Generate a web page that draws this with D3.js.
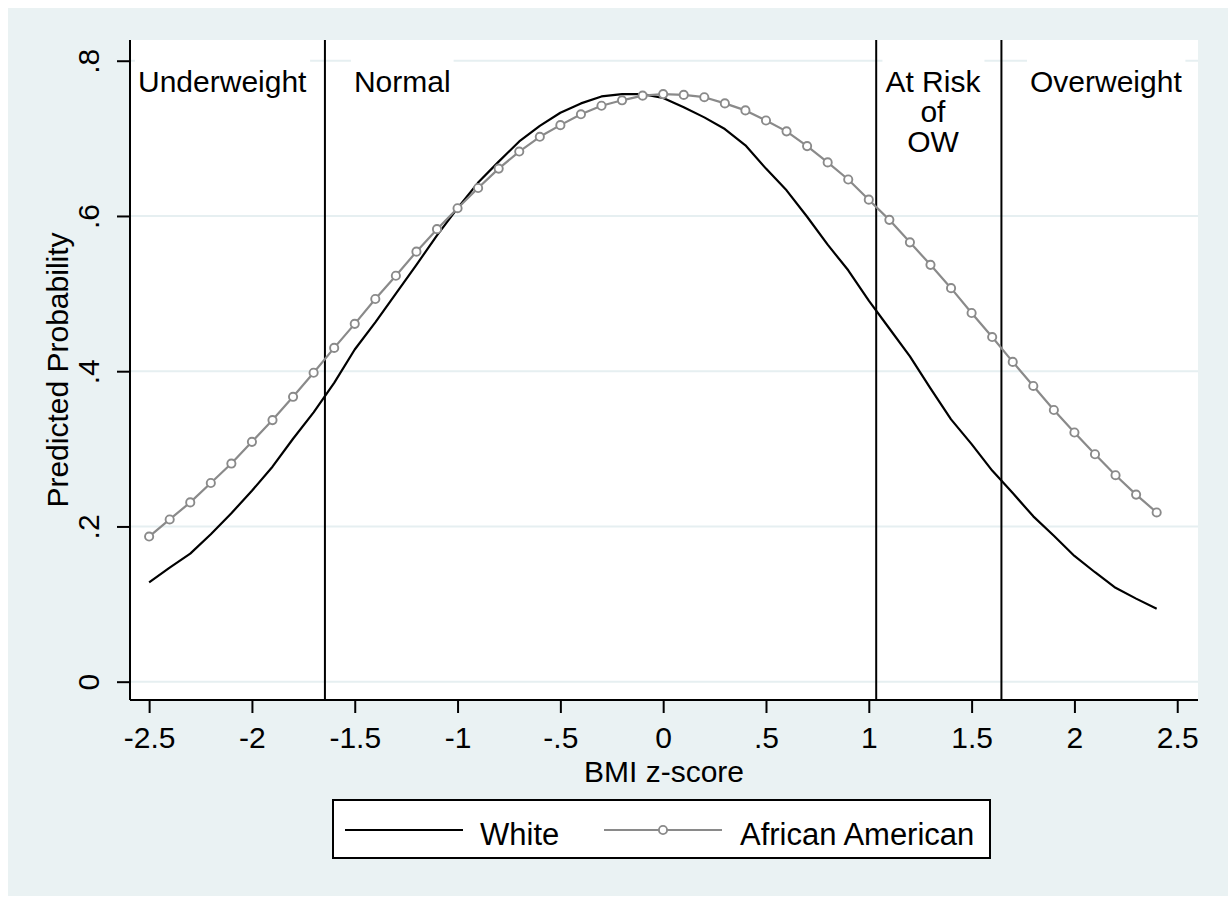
<!DOCTYPE html>
<html>
<head>
<meta charset="utf-8">
<script src="https://cdn.jsdelivr.net/npm/d3@7/dist/d3.min.js"></script>
<style>
  html, body { margin: 0; padding: 0; background: #ffffff; }
  svg text { font-family: "Liberation Sans", Arial, Helvetica, sans-serif; fill: #000; }
</style>
</head>
<body>
<svg id="chart" width="1230" height="898"></svg>
<script>
// ---- data ----
const xValues = [-2.5,-2.4,-2.3,-2.2,-2.1,-2.0,-1.9,-1.8,-1.7,-1.6,-1.5,-1.4,-1.3,-1.2,-1.1,-1.0,-0.9,-0.8,-0.7,-0.6,-0.5,-0.4,-0.3,-0.2,-0.1,0.0,0.1,0.2,0.3,0.4,0.5,0.6,0.7,0.8,0.9,1.0,1.1,1.2,1.3,1.4,1.5,1.6,1.7,1.8,1.9,2.0,2.1,2.2,2.3,2.4];
const whiteValues = [0.128,0.147,0.165,0.190,0.217,0.246,0.277,0.313,0.347,0.385,0.428,0.463,0.500,0.537,0.575,0.610,0.643,0.670,0.696,0.716,0.733,0.745,0.754,0.757,0.757,0.752,0.740,0.727,0.712,0.691,0.661,0.633,0.599,0.563,0.530,0.491,0.455,0.419,0.378,0.338,0.306,0.272,0.243,0.213,0.188,0.162,0.141,0.121,0.107,0.094];
const africanAmericanValues = [0.187,0.209,0.231,0.256,0.281,0.309,0.337,0.367,0.398,0.430,0.461,0.493,0.523,0.554,0.583,0.610,0.636,0.661,0.683,0.702,0.717,0.731,0.742,0.749,0.755,0.757,0.756,0.753,0.745,0.736,0.723,0.709,0.690,0.669,0.647,0.621,0.595,0.566,0.537,0.507,0.475,0.444,0.412,0.381,0.350,0.321,0.293,0.266,0.241,0.218];
const cutoffs = [-1.645, 1.036, 1.645];
const xTicks = [-2.5,-2,-1.5,-1,-0.5,0,0.5,1,1.5,2,2.5];
const xTickLabels = ["-2.5","-2","-1.5","-1","-.5","0",".5","1","1.5","2","2.5"];
const yTicks = [0,0.2,0.4,0.6,0.8];
const yTickLabels = ["0",".2",".4",".6",".8"];
const zoneLabels = [
  {lines:["Underweight"], at:-2.554, anchor:"start"},
  {lines:["Normal"], at:-1.504, anchor:"start"},
  {lines:["At Risk","of","OW"], at:1.312, anchor:"middle"},
  {lines:["Overweight"], at:1.784, anchor:"start"}
];
const seriesNames = ["White","African American"];

// ---- layout ----
const svg = d3.select("#chart");
const plot = {left:130, right:1198, top:40, bottom:700};
const x = d3.scaleLinear().domain([-2.593, 2.601]).range([plot.left, plot.right]);
const y = d3.scaleLinear().domain([-0.0236, 0.8267]).range([plot.bottom, plot.top]);
const grayCol = "#8a8a8a";
const fs = 30;

// outer background
svg.append("rect").attr("x",8).attr("y",8).attr("width",1220).attr("height",888).attr("fill","#eaf2f3");
// plot region
svg.append("rect").attr("x",plot.left).attr("y",plot.top)
  .attr("width",plot.right-plot.left).attr("height",plot.bottom-plot.top).attr("fill","#ffffff");

// gridlines
svg.append("g").selectAll("line").data(yTicks).join("line")
  .attr("x1",plot.left).attr("x2",plot.right)
  .attr("y1",d=>y(d)).attr("y2",d=>y(d))
  .attr("stroke","#e6eff1").attr("stroke-width",2);

// zone labels with white boxes
const lblG = svg.append("g");
zoneLabels.forEach(z => {
  const g = lblG.append("g");
  const t = g.append("text").attr("font-size",fs).attr("text-anchor",z.anchor);
  z.lines.forEach((ln,i) => {
    t.append("tspan").attr("x",x(z.at)).attr("y",92 + i*30).text(ln);
  });
  const bb = t.node().getBBox();
  g.insert("rect","text").attr("x",bb.x-3).attr("y",bb.y-6).attr("width",bb.width+6).attr("height",bb.height+8).attr("fill","#ffffff");
});

// vertical cutoff lines
svg.append("g").selectAll("line").data(cutoffs).join("line")
  .attr("x1",d=>x(d)).attr("x2",d=>x(d))
  .attr("y1",plot.top).attr("y2",plot.bottom)
  .attr("stroke","#000").attr("stroke-width",2);

// series
const whiteData = xValues.map((v,i)=>({x:v,y:whiteValues[i]}));
const aaData = xValues.map((v,i)=>({x:v,y:africanAmericanValues[i]}));
const line = d3.line().x(d=>x(d.x)).y(d=>y(d.y));
svg.append("path").datum(whiteData).attr("d",line).attr("fill","none").attr("stroke","#000").attr("stroke-width",2.2).attr("stroke-linejoin","round");
svg.append("path").datum(aaData).attr("d",line).attr("fill","none").attr("stroke",grayCol).attr("stroke-width",2.2).attr("stroke-linejoin","round");
svg.append("g").selectAll("circle").data(aaData).join("circle")
  .attr("cx",d=>x(d.x)).attr("cy",d=>y(d.y)).attr("r",4.1)
  .attr("fill","#ffffff").attr("stroke",grayCol).attr("stroke-width",1.9);

// axes
const yAxis = d3.axisLeft(y).tickValues(yTicks).tickFormat((d,i)=>yTickLabels[i]).tickSize(13).tickSizeOuter(0);
const yg = svg.append("g").attr("transform",`translate(${plot.left},0)`).call(yAxis);
yg.select(".domain").attr("stroke","#000").attr("stroke-width",2).attr("d",`M0,${plot.bottom}V${plot.top}`);
yg.selectAll(".tick line").attr("stroke","#000").attr("stroke-width",2);
yg.selectAll(".tick text").attr("x",null).attr("dy",null).attr("font-size",fs)
  .attr("text-anchor","middle")
  .attr("transform","translate(-31,0) rotate(-90)");

const xAxis = d3.axisBottom(x).tickValues(xTicks).tickFormat((d,i)=>xTickLabels[i]).tickSize(13).tickSizeOuter(0);
const xg = svg.append("g").attr("transform",`translate(0,${plot.bottom})`).call(xAxis);
xg.select(".domain").attr("stroke","#000").attr("stroke-width",2).attr("d",`M${plot.left},0H${plot.right}`);
xg.selectAll(".tick line").attr("stroke","#000").attr("stroke-width",2);
xg.selectAll(".tick text").attr("y",48).attr("dy",null).attr("font-size",fs);
svg.selectAll(".tick text").attr("fill","#000");
yg.attr("font-family",null); xg.attr("font-family",null);

// axis titles
svg.append("text").attr("x",(plot.left+plot.right)/2).attr("y",782).attr("text-anchor","middle")
  .attr("font-size",fs).text("BMI z-score");
svg.append("text").attr("transform",`translate(68,${(plot.top+plot.bottom)/2}) rotate(-90)`)
  .attr("text-anchor","middle").attr("font-size",fs).text("Predicted Probability");

// legend
const lg = svg.append("g");
lg.append("rect").attr("x",333).attr("y",800).attr("width",657).attr("height",58)
  .attr("fill","#fff").attr("stroke","#000").attr("stroke-width",2);
lg.append("line").attr("x1",345).attr("x2",463).attr("y1",830).attr("y2",830).attr("stroke","#000").attr("stroke-width",2.2);
lg.append("text").attr("x",480).attr("y",845).attr("font-size",31).text(seriesNames[0]);
lg.append("line").attr("x1",604).attr("x2",722).attr("y1",830).attr("y2",830).attr("stroke",grayCol).attr("stroke-width",2.2);
lg.append("circle").attr("cx",663).attr("cy",830).attr("r",4.1).attr("fill","#fff").attr("stroke",grayCol).attr("stroke-width",1.9);
lg.append("text").attr("x",740).attr("y",845).attr("font-size",31).text(seriesNames[1]);
</script>
</body>
</html>
